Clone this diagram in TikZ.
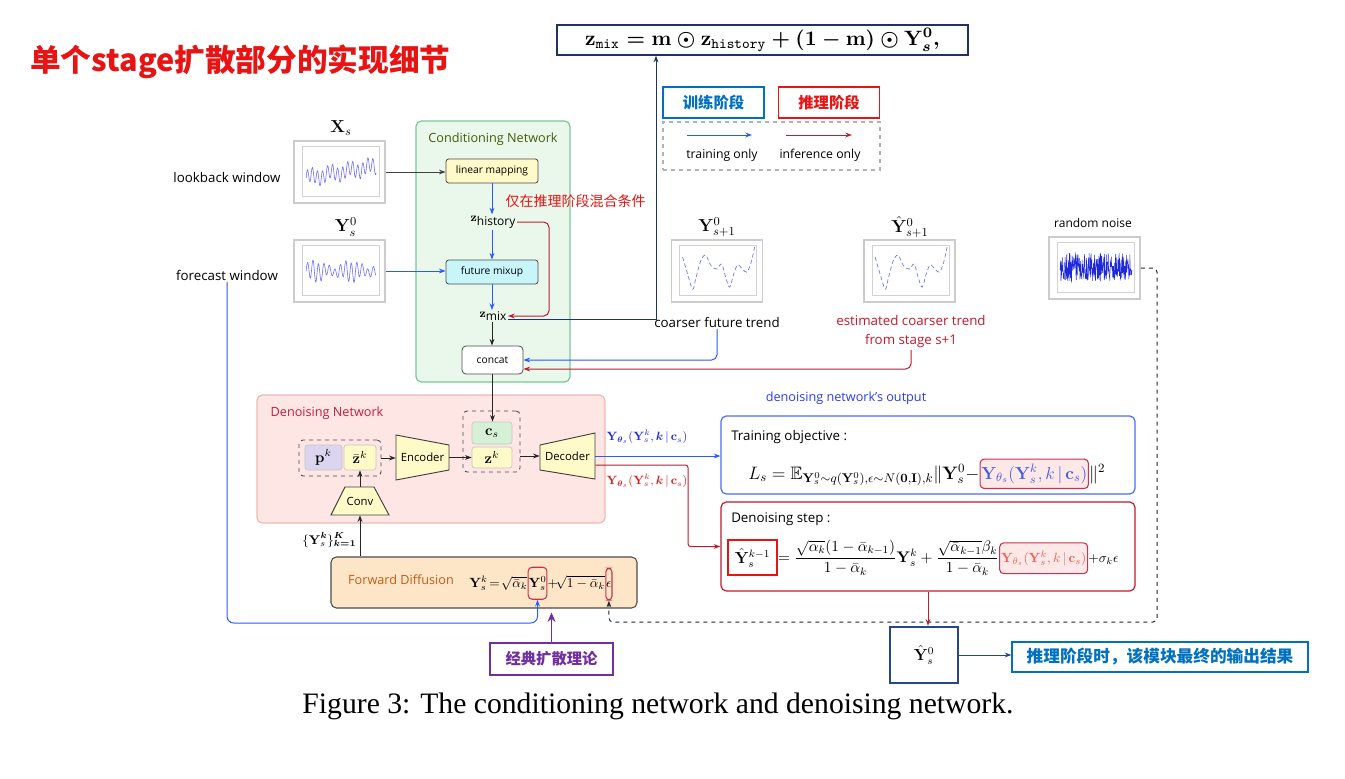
\documentclass[tikz,border=0pt]{standalone}
\usepackage{fix-cm}
\usepackage[no-math]{fontspec}
\setmainfont{Open Sans}
\newfontfamily\cjk{Noto Sans CJK SC}
\newfontfamily\capfont{Liberation Serif}
\usepackage{amsmath,amssymb}
\usepackage{graphicx}
\usetikzlibrary{arrows.meta,calc}

\definecolor{titlered}{RGB}{232,20,20}
\definecolor{navy}{RGB}{30,50,100}
\definecolor{navytwo}{RGB}{40,70,140}
\definecolor{legblue}{RGB}{0,112,192}
\definecolor{pured}{RGB}{232,20,20}
\definecolor{arrblue}{RGB}{40,90,255}
\definecolor{arrred}{RGB}{185,30,50}
\definecolor{estred}{RGB}{195,25,45}
\definecolor{condfill}{RGB}{234,248,236}
\definecolor{condborder}{RGB}{120,200,150}
\definecolor{condtitle}{RGB}{70,90,10}
\definecolor{dnfill}{RGB}{253,230,228}
\definecolor{dnborder}{RGB}{240,185,180}
\definecolor{dntitle}{RGB}{195,30,60}
\definecolor{yel}{RGB}{255,250,200}
\definecolor{cyanfill}{RGB}{200,245,250}
\definecolor{lav}{RGB}{220,213,240}
\definecolor{csgreen}{RGB}{213,240,213}
\definecolor{fdfill}{RGB}{253,229,200}
\definecolor{fdtext}{RGB}{200,90,20}
\definecolor{hlred}{RGB}{200,50,80}
\definecolor{trblue}{RGB}{70,110,250}
\definecolor{outblue}{RGB}{40,60,240}
\definecolor{hlblue}{RGB}{70,90,230}
\definecolor{hlfill}{RGB}{253,232,232}
\definecolor{salmon}{RGB}{240,95,80}
\definecolor{purp}{RGB}{112,48,160}
\definecolor{lblblue}{RGB}{30,40,240}
\definecolor{lblred}{RGB}{230,25,25}
\definecolor{tsblue}{RGB}{110,110,255}
\definecolor{noiseblue}{RGB}{30,40,220}

\tikzset{
  arr/.style={-{Stealth[length=5pt,width=3.6pt]}, line width=0.75pt},
  barr/.style={arr, draw=arrblue},
  rarr/.style={arr, draw=arrred},
  karr/.style={arr, draw=black!85},
  mylbl/.style={font=\fontsize{10}{12}\selectfont, inner sep=1pt},
  smlbl/.style={font=\fontsize{9}{11}\selectfont, inner sep=1pt},
  mlbl/.style={font=\fontsize{13}{15}\selectfont, inner sep=0pt},
  boxy/.style={draw=gray!60!black, rounded corners=2pt, line width=0.6pt, fill=yel,
    font=\fontsize{7.7}{9}\selectfont, inner sep=0pt, minimum width=69pt, minimum height=18pt},
  inbox/.style={draw=gray!45, rounded corners=2pt, line width=0.5pt, inner sep=0pt,
    font=\fontsize{11}{12}\selectfont},
  grpbox/.style={draw=gray!60!black, dashed, rounded corners=3pt, line width=0.7pt, inner sep=0pt},
  trapz/.style={draw=gray!50!black, fill=yel, line width=0.7pt},
  traptxt/.style={inner sep=0pt, font=\fontsize{8.5}{10}\selectfont},
  tspanelstyle/.style={draw=gray!40, line width=1.3pt, fill=white, inner sep=0pt,
    minimum width=68.25pt, minimum height=46.5pt},
  hlbox/.style={draw=hlred, rounded corners=3pt, line width=0.8pt, inner xsep=1pt, inner ysep=0pt},
}

\newcommand\tspanel[4]{%
  \node[tspanelstyle] (#1) at (#2,#3) {};
  \begin{scope}[shift={(#1.north west)}]
    \draw[gray!35, line width=0.3pt] (9,6) rectangle (86,56);
    #4
  \end{scope}
}
\newcommand\ytheta{\mathbf{Y}_{\theta_s}(\mathbf{Y}_s^k,k\,|\,\mathbf{c}_s)}
\newcommand\ythetab{\mathbf{Y}_{\boldsymbol{\theta}_s}(\mathbf{Y}_s^k,\boldsymbol{k}\,|\,\mathbf{c}_s)}

\begin{document}
\begin{tikzpicture}[x=0.75pt,y=-0.75pt]
\useasboundingbox (0,0) rectangle (1345,778);
\fill[white] (0,0) rectangle (1345,778);

% title
\node[font=\cjk\bfseries\fontsize{23}{26}\selectfont, text=titlered, anchor=west, inner sep=0pt] (title) at (30,62) {单个stage扩散部分的实现细节};

% top formula
\node[draw=navy, line width=1.1pt, minimum width=308.25pt, minimum height=22.5pt, inner sep=0pt] (ztop) at (762.5,40)
  {\resizebox{266pt}{!}{$\boldsymbol{\mathbf{z}_{\texttt{mix}} = \mathbf{m}\odot\mathbf{z}_{\texttt{history}} + (1-\mathbf{m})\odot\mathbf{Y}_s^0,}$}};

% legend
\node[draw=legblue, line width=0.9pt, minimum width=75.75pt, minimum height=23.25pt, text=legblue,
  font=\cjk\bfseries\fontsize{11.5}{13}\selectfont] (ltrain) at (713.5,102.5) {训练阶段};
\node[draw=pured, line width=0.9pt, minimum width=75.75pt, minimum height=23.25pt, text=pured,
  font=\cjk\bfseries\fontsize{11.5}{13}\selectfont] (linfer) at (829,102.5) {推理阶段};
\node[draw=gray!60, dashed, line width=0.9pt, minimum width=162.75pt, minimum height=36pt] (legbox) at (771.5,146) {};
\coordinate (la1) at (687,135); \coordinate (la2) at (752,135);
\draw[barr] (la1) -- (la2);
\coordinate (lb1) at (786,135); \coordinate (lb2) at (852,135);
\draw[rarr] (lb1) -- (lb2);
\node[font=\fontsize{9.2}{10}\selectfont] (ltxt1) at (722,155) {training only};
\node[font=\fontsize{9.2}{10}\selectfont] (ltxt2) at (820,155) {inference only};

% conditioning network
\node[draw=condborder, fill=condfill, rounded corners=4pt, line width=0.9pt, minimum width=115.5pt, minimum height=195.75pt] (cond) at (493,251.5) {};
\node[font=\fontsize{9.5}{11}\selectfont, text=condtitle] (condt) at (493,139) {Conditioning Network};
\node[boxy] (lin) at (492,171) {linear mapping};
\node[smlbl] (zhist) at (493,222) {$\mathbf{z}$\raisebox{-2.5pt}{history}};
\node[boxy, fill=cyanfill] (fmix) at (492,272) {future mixup};
\node[smlbl] (zmix) at (493,316) {$\mathbf{z}$\raisebox{-2.5pt}{mix}};
\node[boxy, fill=white, minimum width=45.75pt, minimum height=21pt, rounded corners=3pt] (concat) at (492.5,360) {concat};
\node[font=\cjk\fontsize{10.5}{12}\selectfont, text=pured] (mixnote) at (575.5,201) {仅在推理阶段混合条件};

\draw[barr] (lin.south) -- (lin.south |- zhist.north);
\draw[barr] (zhist.south -| lin.south) -- (lin.south |- fmix.north);
\draw[barr] (fmix.south) -- (fmix.south |- zmix.north);
\draw[karr] (zmix.south -| fmix.south) -- (fmix.south |- concat.north);
\coordinate (rc) at (549,0);
\draw[rarr, rounded corners=4pt] (zhist.east) -- (zhist.east -| rc) -- (rc |- zmix.east) -- (zmix.east);
\coordinate (nv) at (656,0);
\draw[arr, draw=navy] ($(zmix.east)+(0,3)$) -| (nv |- ztop.south);

% left panels
\tspanel{P1}{339.5}{172}{%
  \draw[tsblue, line width=0.45pt] plot[domain=0:1, samples=220] ({13+70*\x},{38-12*\x-7*sin(5000*\x)-3*sin(1300*\x)});}
\node[mlbl] (lX) at (341,128) {$\mathbf{X}_s$};
\node[mylbl] (lw) at (227,177) {lookback window};
\tspanel{P2}{339.5}{271}{%
  \draw[tsblue, line width=0.45pt] plot[domain=0:1, samples=220] ({13+70*\x},{32-10*sin(4600*\x)*(0.7+0.3*sin(700*\x))-2*sin(1500*\x)});}
\node[mlbl] (lY) at (346,227) {$\mathbf{Y}_s^0$};
\node[mylbl] (fw) at (227,275) {forecast window};

\draw[arr, draw=black!75] (P1.east) -- (P1.east -| lin.west);
\draw[barr] (P2.east) -- (P2.east -| fmix.west);

% right panels
\tspanel{P3}{717}{271}{%
  \draw[tsblue, line width=0.5pt, densely dashed] plot[smooth, tension=0.6] coordinates {(12,18) (17,35) (22,50) (25,40) (30,22) (35,16) (40,26) (46,30) (51,25) (55,38) (59,48) (63,35) (67,26) (72,30) (76,33) (80,25) (84,8)};}
\node[mlbl] (lY1) at (717,227) {$\mathbf{Y}_{s+1}^0$};
\node[mylbl] (ctr) at (717,322) {coarser future trend};
\tspanel{P4}{909.5}{271}{%
  \draw[tsblue, line width=0.5pt, densely dashed] plot[smooth, tension=0.6] coordinates {(12,18) (17,35) (22,50) (25,40) (30,22) (35,16) (40,26) (46,30) (51,25) (55,38) (59,48) (63,35) (67,26) (72,30) (76,33) (80,25) (84,8)};}
\node[mlbl] (lY2) at (910,227) {$\hat{\mathbf{Y}}_{s+1}^0$};
\node[font=\fontsize{10}{14.25}\selectfont, text=estred, align=center, inner sep=1pt] (etr) at (911,332) {estimated coarser trend\\from stage s+1};
\pgfmathsetseed{7}
\tspanel{P5}{1094.5}{268}{%
  \draw[noiseblue, line width=0.35pt] plot[domain=0:1, samples=260] ({12+72*\x},{31+14*rand});}
\node[smlbl] (rn) at (1093,223) {random noise};

\draw[barr, rounded corners=4pt] (ctr.south) |- (concat.east);
\draw[rarr, rounded corners=4pt] (etr.south) |- ($(concat.east)+(0,9)$);

% denoising network
\node[draw=dnborder, fill=dnfill, rounded corners=4pt, line width=0.9pt, minimum width=261pt, minimum height=96pt] (dn) at (431,459) {};
\node[font=\fontsize{9.5}{11}\selectfont, text=dntitle] (dnt) at (327,413) {Denoising Network};
\node[grpbox, minimum width=61.5pt, minimum height=27pt] (g1) at (340,458) {};
\node[inbox, fill=lav, minimum width=27.75pt, minimum height=18.75pt] (pk) at (323.5,457.5) {$\mathbf{p}^k$};
\node[inbox, fill=yel, minimum width=24pt, minimum height=18.75pt] (zb) at (360,457.5) {$\bar{\mathbf{z}}^k$};
\node[grpbox, minimum width=42.75pt, minimum height=45.75pt] (g2) at (491.5,441.5) {};
\node[inbox, fill=csgreen, minimum width=30pt, minimum height=16.5pt] (cs) at (492,433) {$\mathbf{c}_s$};
\node[inbox, fill=yel, minimum width=30pt, minimum height=15.75pt] (zk) at (492,457.5) {$\mathbf{z}^k$};

\draw[trapz] (331,515) -- (389,515) -- (374,487) -- (345,487) -- cycle;
\node[traptxt, minimum width=43.5pt, minimum height=21pt] (conv) at (360,501) {Conv};
\draw[trapz] (396,435) -- (449,445) -- (449,470) -- (396,480) -- cycle;
\node[traptxt, minimum width=39.75pt, minimum height=33.75pt] (enc) at (422.5,457.5) {Encoder};
\draw[trapz] (540,445) -- (595,433) -- (595,479) -- (540,470) -- cycle;
\node[traptxt, minimum width=41.25pt, minimum height=34.5pt] (dec) at (567.5,456) {Decoder};

\draw[karr] (g1.east) -- (g1.east -| enc.west);
\draw[karr] (enc.east) -- (enc.east -| zk.west);
\draw[karr] (g2.east |- dec.west) -- (dec.west);
\draw[karr] (concat.south) -- (concat.south |- cs.north);
\draw[karr] (conv.north) -- (conv.north |- zb.south);

% forward diffusion
\node[draw=gray!60!black, fill=fdfill, rounded corners=4pt, line width=0.8pt, minimum width=229.5pt, minimum height=38.25pt] (fd) at (484,582.5) {};
\node[font=\fontsize{9.5}{11}\selectfont, text=fdtext] (fdt) at (401,580) {Forward Diffusion};
\node[font=\fontsize{10}{12}\selectfont, anchor=base west, inner sep=0pt] (fdA) at (469,587) {$\mathbf{Y}_s^k\!=\!\sqrt{\bar{\alpha}_k}$};
\node[hlbox, inner xsep=0.3pt, font=\fontsize{10}{12}\selectfont, anchor=base west, minimum height=24pt] (fdH1) at (fdA.base east) {$\mathbf{Y}_s^0$};
\node[font=\fontsize{10}{12}\selectfont, anchor=base west, inner sep=0pt] (fdB) at (fdH1.base east) {$+\!\sqrt{1-\bar{\alpha}_k}$};
\node[hlbox, inner xsep=0.3pt, font=\fontsize{10}{12}\selectfont, anchor=base west, minimum height=24pt] (fdH2) at (fdB.base east) {$\epsilon$};

\draw[karr] (conv.south |- fd.north) -- (conv.south);
\node[font=\fontsize{9.5}{10}\selectfont, anchor=east, inner sep=1pt] (yset) at (358,540) {$\{\mathbf{Y}_s^{\boldsymbol{k}}\}_{\boldsymbol{k=1}}^{\boldsymbol{K}}$};

\coordinate (fb) at (0,623);
\draw[barr, rounded corners=5pt] (fw.south) |- (fdH1.south |- fb) -- (fdH1.south);
\coordinate (nb) at (1157,622);
\draw[karr, dashed, rounded corners=3pt] (P5.east) -| (nb) -- (nb -| fdH2.south) -- (fdH2.south);

\node[draw=purp, line width=0.9pt, minimum width=92.25pt, minimum height=24pt, text=purp,
  font=\cjk\bfseries\fontsize{11.5}{13}\selectfont] (theory) at (551.5,659) {经典扩散理论};
\draw[-{Stealth[length=7pt,width=6pt]}, line width=0.9pt, draw=purp, shorten >=3pt] (theory.north) -- (theory.north |- fd.south);

% training objective
\node[draw=trblue, rounded corners=4pt, line width=0.9pt, fill=white, minimum width=310.5pt, minimum height=58.5pt] (tr) at (928,455) {};
\node[font=\fontsize{9.5}{11}\selectfont, text=outblue] (dno) at (846,398) {denoising network's output};
\node[font=\fontsize{10}{11}\selectfont, anchor=west, inner sep=0pt] (tro) at (731,437) {Training objective :};
\node[font=\fontsize{13.5}{15}\selectfont, anchor=base west, inner sep=0pt] (trA) at (748,479)
  {$L_s = \mathbb{E}_{\mathbf{Y}_s^0\sim q(\mathbf{Y}_s^0),\epsilon\sim N(\mathbf{0},\mathbf{I}),k}\|\mathbf{Y}_s^0-$};
\node[hlbox, fill=hlfill, text=hlblue, font=\fontsize{13}{15}\selectfont, anchor=base west, minimum height=22pt] (trH) at (trA.base east)
  {$\ytheta$};
\node[font=\fontsize{13.5}{15}\selectfont, anchor=base west, inner sep=0pt] (trC) at (trH.base east) {$\|^2$};

% decoder outputs
\draw[barr] (dec.east) -- (dec.east -| tr.west);
\node[font=\fontsize{9}{10}\selectfont, text=lblblue, inner sep=0pt] (yb) at (647,437) {$\ythetab$};

% denoising step
\node[draw=estred, rounded corners=4pt, line width=0.9pt, fill=white, minimum width=310.5pt, minimum height=66.75pt] (st) at (928,546.5) {};
\node[font=\fontsize{10}{11}\selectfont, anchor=west, inner sep=0pt] (sto) at (731,519) {Denoising step :};
\node[draw=pured, line width=1.4pt, minimum width=36.75pt, minimum height=26.25pt, inner sep=0pt, font=\fontsize{12}{14}\selectfont] (yk1) at (752.5,557.5) {$\hat{\mathbf{Y}}_s^{k-1}$};
\node[font=\fontsize{11.5}{13}\selectfont, anchor=west, inner sep=0pt] (stA) at (yk1.east)
  {$=\dfrac{\sqrt{\alpha_k}(1-\bar{\alpha}_{k-1})}{1-\bar{\alpha}_k}\mathbf{Y}_s^k+\dfrac{\sqrt{\bar{\alpha}_{k-1}}\beta_k}{1-\bar{\alpha}_k}$};
\node[hlbox, fill=hlfill, text=salmon, font=\fontsize{10}{12}\selectfont, anchor=base west, minimum height=23pt] (stH) at (stA.base east)
  {$\ytheta$};
\node[font=\fontsize{10}{12}\selectfont, anchor=base west, inner sep=0pt] (stC) at (stH.base east) {$+\sigma_k\epsilon$};

\coordinate (rk) at (688,0);
\draw[rarr, rounded corners=2pt] ($(dec.east)+(0,9)$) -| (rk |- st.west) -- (st.west);
\node[font=\fontsize{9}{10}\selectfont, text=lblred, inner sep=0pt] (yr) at (647,481) {$\ythetab$};

% output
\node[draw=navytwo, line width=1.8pt, minimum width=51pt, minimum height=42pt, font=\fontsize{12}{14}\selectfont] (out) at (924,655) {$\hat{\mathbf{Y}}_s^0$};
\draw[rarr] (st.south) -- (st.south |- out.north);
\node[draw=legblue, line width=0.9pt, minimum width=222pt, minimum height=22.5pt, text=legblue,
  font=\cjk\bfseries\fontsize{12.5}{14}\selectfont] (res) at (1160,657) {推理阶段时，该模块最终的输出结果};
\draw[arr, draw=navytwo] (out.east) -- (out.east -| res.west);

% caption
\node[font=\capfont\fontsize{22.25}{26}\selectfont, inner sep=0pt] (cap) at (658,706) {Figure 3: The conditioning network and denoising network.};
\end{tikzpicture}
\end{document}
